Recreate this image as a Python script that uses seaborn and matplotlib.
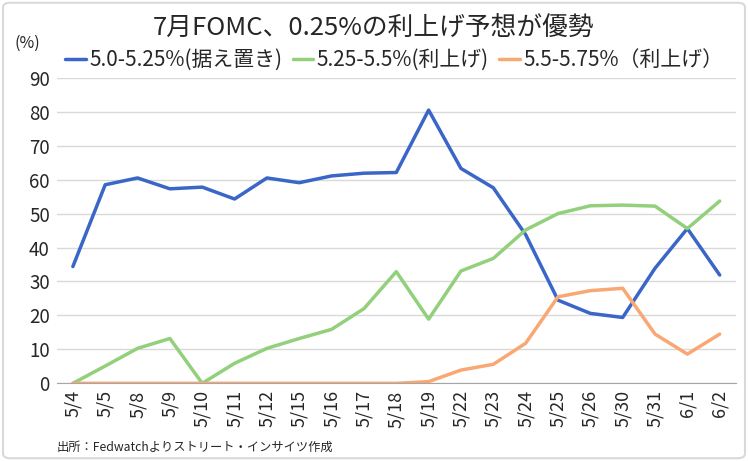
import matplotlib
matplotlib.use("Agg")
import matplotlib.pyplot as plt
import seaborn as sns
import pandas as pd
from matplotlib.patches import FancyBboxPatch

dates = ["5/4", "5/5", "5/8", "5/9", "5/10", "5/11", "5/12", "5/15", "5/16", "5/17",
         "5/18", "5/19", "5/22", "5/23", "5/24", "5/25", "5/26", "5/30", "5/31", "6/1", "6/2"]
hold = [34.4, 58.5, 60.5, 57.3, 57.8, 54.3, 60.5, 59.1, 61.1, 61.9,
        62.1, 80.5, 63.3, 57.6, 43.8, 24.5, 20.6, 19.4, 33.9, 45.6, 31.9]
hike25 = [0, 5.1, 10.3, 13.2, 0, 5.9, 10.3, 13.2, 15.9, 22.0,
          32.9, 18.9, 33.1, 36.8, 45.2, 50.0, 52.3, 52.5, 52.2, 45.6, 53.7]
hike50 = [0, 0, 0, 0, 0, 0, 0, 0, 0, 0,
          0, 0.5, 3.9, 5.6, 11.8, 25.5, 27.3, 28.0, 14.5, 8.6, 14.5]
series_names = ["5.0-5.25%(据え置き)", "5.25-5.5%(利上げ)", "5.5-5.75%（利上げ）"]
colors = ["#3a66c8", "#92d07c", "#f9a874"]
yticks = [0, 10, 20, 30, 40, 50, 60, 70, 80, 90]

sns.set_style("white")
plt.rcParams['font.family'] = ['Noto Sans CJK JP', 'DejaVu Sans']

rows = []
for name, vals in zip(series_names, [hold, hike25, hike50]):
    for d, v in zip(dates, vals):
        rows.append({"date": d, "value": v, "series": name})
df = pd.DataFrame(rows)
df["x"] = df["date"].map({d: i for i, d in enumerate(dates)})

fig = plt.figure(figsize=(7.48, 4.61), dpi=100)
ax = fig.add_axes([0.0758, 0.1685, 0.908, 0.6627])

sns.lineplot(data=df, x="x", y="value", hue="series", palette=colors,
             hue_order=series_names, linewidth=2.5, ax=ax, legend=True, sort=False)

ax.set_xlim(-0.5, len(dates) - 0.5)
ax.set_ylim(0, 90)
ax.set_yticks(yticks)
ax.set_yticklabels([str(t) for t in yticks], fontsize=13.5)
ax.set_xticks(range(len(dates)))
ax.set_xticklabels(dates, rotation=90, fontsize=13)
ax.set_xticks([i - 0.5 for i in range(len(dates) + 1)], minor=True)
ax.tick_params(axis="x", which="major", length=0, pad=5)
ax.tick_params(axis="x", which="minor", length=5, color="#a6a6a6", width=1)
ax.tick_params(axis="y", length=0, pad=5)
ax.yaxis.grid(True, color="#d9d9d9", linewidth=1)
ax.set_axisbelow(True)
for s in ["top", "right", "left"]:
    ax.spines[s].set_visible(False)
ax.spines["bottom"].set_color("#a6a6a6")
ax.set_xlabel("")
ax.set_ylabel("")

handles, labels = ax.get_legend_handles_labels()
ax.legend(handles, labels, loc="center", bbox_to_anchor=(0.527, 0.87),
          bbox_transform=fig.transFigure, ncol=3, frameon=False, fontsize=15,
          handlelength=1.0, handletextpad=0.15, columnspacing=0.5)

fig.text(0.5, 0.937, "7月FOMC、0.25%の利上げ予想が優勢", ha="center", va="center", fontsize=18.5)
fig.text(0.037, 0.905, "(%)", ha="center", va="center", fontsize=11.5)
fig.text(0.076, 0.03, "出所：Fedwatchよりストリート・インサイツ作成", ha="left", va="center", fontsize=8.8)

border = FancyBboxPatch((0.004, 0.006), 0.992, 0.988, boxstyle="round,pad=0,rounding_size=0.01",
                        transform=fig.transFigure, fill=False, edgecolor="#d9d9d9", linewidth=1.5)
fig.patches.append(border)

fig.savefig("out.png", dpi=100)
